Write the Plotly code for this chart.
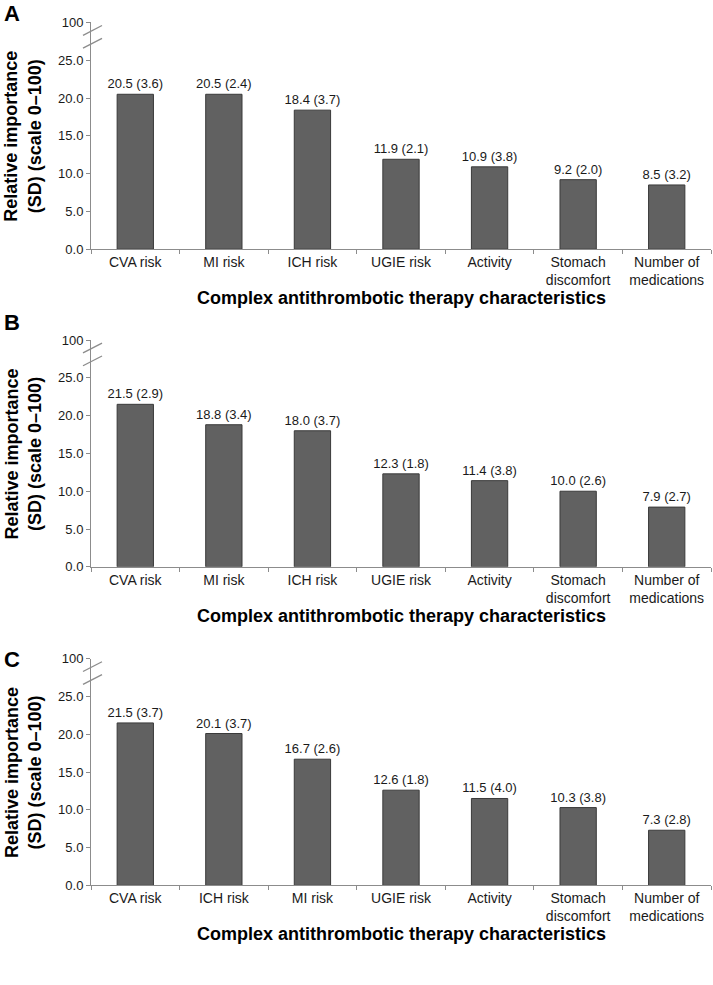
import plotly.graph_objects as go

# panel data: category order, mean relative importance, SD
cats_a = ["CVA risk", "MI risk", "ICH risk", "UGIE risk", "Activity",
          "Stomach<br>discomfort", "Number of<br>medications"]
mean_a = [20.5, 20.5, 18.4, 11.9, 10.9, 9.2, 8.5]
sd_a = [3.6, 2.4, 3.7, 2.1, 3.8, 2.0, 3.2]

cats_b = ["CVA risk", "MI risk", "ICH risk", "UGIE risk", "Activity",
          "Stomach<br>discomfort", "Number of<br>medications"]
mean_b = [21.5, 18.8, 18.0, 12.3, 11.4, 10.0, 7.9]
sd_b = [2.9, 3.4, 3.7, 1.8, 3.8, 2.6, 2.7]

cats_c = ["CVA risk", "ICH risk", "MI risk", "UGIE risk", "Activity",
          "Stomach<br>discomfort", "Number of<br>medications"]
mean_c = [21.5, 20.1, 16.7, 12.6, 11.5, 10.3, 7.3]
sd_c = [3.7, 3.7, 2.6, 1.8, 4.0, 3.8, 2.8]

panel_letters = ["A", "B", "C"]
ytick_vals = [0, 5, 10, 15, 20, 25, 30]
ytick_text = ["0.0", "5.0", "10.0", "15.0", "20.0", "25.0", "100"]

W, H = 713, 985
FONT = "Liberation Sans, Arial, sans-serif"


def py(s):
    # wanted on-screen y pixel -> layout pixel (the page comes out slightly squeezed)
    return (s - 6.5) / 0.986


# top / bottom of each plot area, in on-screen pixels
panel_px = [(22, 249), (340, 567), (659, 886)]
letter_y = [13, 322, 660]
left_px, right_px = 91, 711

fig = go.Figure()
panels = [(cats_a, mean_a, sd_a), (cats_b, mean_b, sd_b), (cats_c, mean_c, sd_c)]

for i, (cats, means, sds) in enumerate(panels):
    n = i + 1
    xa = "x" if n == 1 else f"x{n}"
    ya = "y" if n == 1 else f"y{n}"
    labels = [f"{m:.1f} ({s:.1f})" for m, s in zip(means, sds)]
    fig.add_trace(go.Bar(
        x=cats, y=means, text=labels, textposition="outside",
        constraintext="none",
        textfont=dict(size=13, color="#1a1a1a", family=FONT),
        cliponaxis=False,
        marker=dict(color="#616161", line=dict(color="#3a3a3a", width=1)),
        xaxis=xa, yaxis=ya, showlegend=False, hoverinfo="skip",
    ))
    top, bot = panel_px[i]
    dom_y = [1 - py(bot) / H, 1 - py(top) / H]
    dom_x = [left_px / W, right_px / W]
    xkey = "xaxis" if n == 1 else f"xaxis{n}"
    ykey = "yaxis" if n == 1 else f"yaxis{n}"
    fig.update_layout(**{
        xkey: dict(domain=dom_x, anchor=ya, showline=True, linecolor="#8c8c8c",
                   linewidth=1, ticks="outside", tickson="boundaries",
                   ticklen=4, tickcolor="#8c8c8c", showgrid=False,
                   tickfont=dict(size=14, color="#1a1a1a", family=FONT)),
        ykey: dict(domain=dom_y, anchor=xa, range=[0, 30], showline=True,
                   linecolor="#8c8c8c", linewidth=1, ticks="outside",
                   ticklen=4, tickcolor="#8c8c8c", showgrid=False,
                   tickvals=ytick_vals, ticktext=ytick_text, zeroline=False,
                   tickfont=dict(size=13, color="#1a1a1a", family=FONT)),
    })
    # axis break marks between 25 and 100
    for y0 in [26.6, 28.3]:
        fig.add_shape(type="line", xref="paper", yref=ya,
                      x0=(left_px - 8) / W, x1=(left_px + 11) / W,
                      y0=y0, y1=y0 + 1.3,
                      line=dict(color="#8c8c8c", width=1.3))
    fig.add_annotation(text=f"<b>{panel_letters[i]}</b>", xref="paper", yref="paper",
                       x=2 / W, y=1 - py(letter_y[i]) / H, xanchor="left", yanchor="middle",
                       showarrow=False, font=dict(size=22, color="black", family=FONT))
    fig.add_annotation(text="<b>Relative importance<br>(SD) (scale 0\u2013100)</b>",
                       xref="paper", yref="paper", x=23 / W,
                       y=1 - py((top + bot) / 2 + 1) / H, textangle=-90,
                       xanchor="center", yanchor="middle",
                       showarrow=False, font=dict(size=18, color="black", family=FONT))
    fig.add_annotation(text="<b>Complex antithrombotic therapy characteristics</b>",
                       xref="paper", yref="paper", x=((left_px + right_px) / 2) / W,
                       y=1 - py(bot + 49) / H, xanchor="center", yanchor="middle",
                       showarrow=False, font=dict(size=18, color="black", family=FONT))

fig.update_layout(width=W, height=H, margin=dict(l=0, r=0, t=0, b=0),
                  autosize=False, plot_bgcolor="white", paper_bgcolor="white",
                  bargap=0.59, font=dict(family=FONT))
fig.write_html("out.html", config={"displayModeBar": False},
               post_script="document.body.style.margin='0';")
